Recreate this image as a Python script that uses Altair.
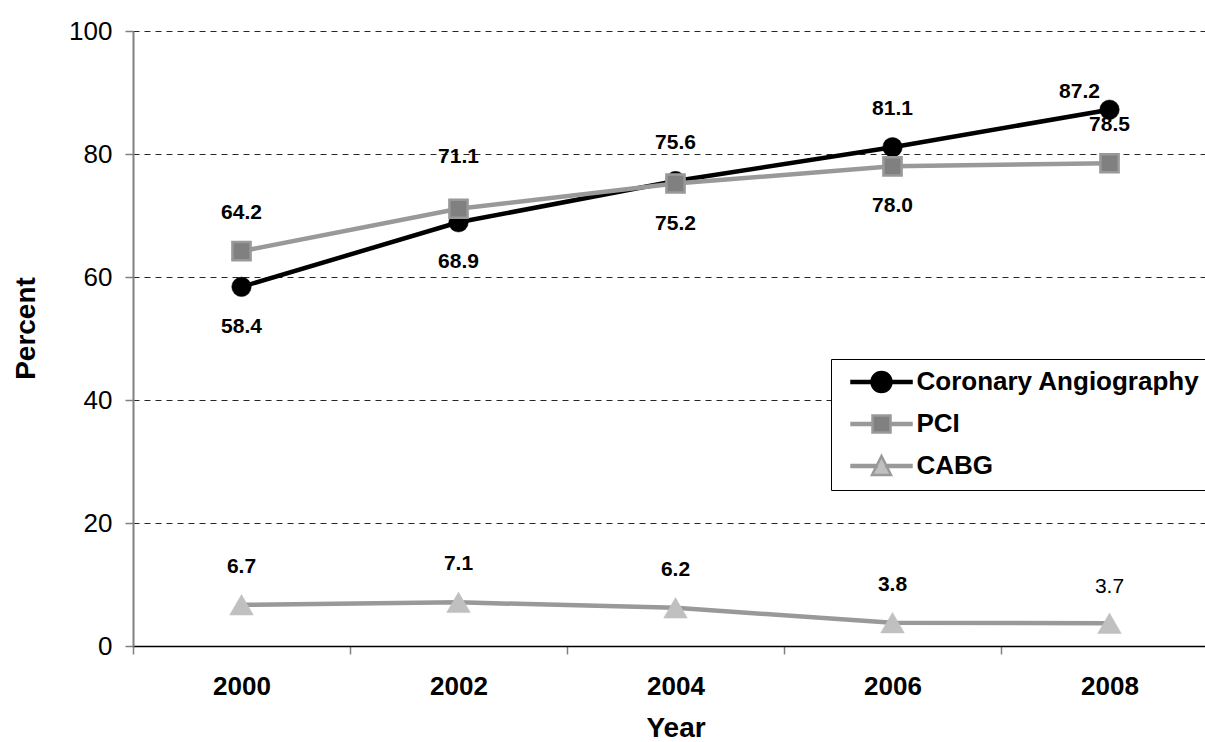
import altair as alt
import pandas as pd

# Share of patients receiving each procedure, by year
years = ["2000", "2002", "2004", "2006", "2008"]
series_names = ["Coronary Angiography", "PCI", "CABG"]
angiography = [58.4, 68.9, 75.6, 81.1, 87.2]
pci = [64.2, 71.1, 75.2, 78.0, 78.5]
cabg = [6.7, 7.1, 6.2, 3.8, 3.7]

# Where each value label sits relative to its marker
angiography_places = ["below", "below", "above", "above", "upleft"]
pci_places = ["above", "high", "below", "below", "above"]
cabg_places = ["above", "above", "above", "above", "above_plain"]

FONT = "Liberation Sans"

line_colors = ["#000000", "#999999", "#999999"]
marker_fills = ["#000000", "#808080", "#c0c0c0"]
marker_strokes = ["#000000", "#999999", "#c0c0c0"]
marker_shapes = ["circle", "square", "triangle-up"]
marker_sizes = [380, 330, 560]

# Legend glyphs: a short line with the series marker in the middle
legend_paths = [
    "M-1,-0.1H1V0.1H-1Z M3,-0.1H5V0.1H3Z "
    "M3,0A1,1,0,1,1,1,0A1,1,0,1,1,3,0Z",
    "M-1,-0.1H1.1V0.1H-1Z M2.9,-0.1H5V0.1H2.9Z M1.1,-0.85H2.9V0.85H1.1Z",
    "M-1,-0.1H1.5V0.1H-1Z M2.5,-0.1H5V0.1H2.5Z M2,-1L2.95,0.9H1.05Z",
]

label_styles = {
    "above": (0, -38, "bold"),
    "high": (0, -52, "bold"),
    "below": (0, 40, "bold"),
    "upleft": (-30, -18, "bold"),
    "above_plain": (0, -36, "normal"),
}

rows = []
for name, values, places in zip(
    series_names,
    [angiography, pci, cabg],
    [angiography_places, pci_places, cabg_places],
):
    for yr, v, p in zip(years, values, places):
        rows.append({"series": name, "year": yr, "value": v, "place": p})
df = pd.DataFrame(rows)

x_enc = alt.X(
    "year:O",
    scale=alt.Scale(type="band", paddingInner=0, paddingOuter=0),
    axis=alt.Axis(
        title="Year",
        tickBand="extent",
        labelAngle=0,
        labelFont=FONT,
        labelFontSize=26,
        labelFontWeight="bold",
        labelColor="#000000",
        labelPadding=19,
        tickSize=8,
        tickColor="#808080",
        tickWidth=1.5,
        domainColor="#000000",
        domainWidth=1.5,
        grid=False,
        titleFont=FONT,
        titleFontSize=28,
        titleFontWeight="bold",
        titleColor="#000000",
        titlePadding=15,
    ),
)
y_enc = alt.Y(
    "value:Q",
    scale=alt.Scale(domain=[0, 100], nice=False, zero=True),
    axis=alt.Axis(
        title="Percent",
        values=[0, 20, 40, 60, 80, 100],
        format="d",
        labelFont=FONT,
        labelFontSize=26,
        labelColor="#000000",
        labelPadding=13,
        tickSize=8,
        tickColor="#808080",
        tickWidth=1.5,
        domainColor="#808080",
        domainWidth=2,
        grid=True,
        gridColor="#000000",
        gridDash=[6, 5],
        gridWidth=1,
        gridOpacity=0.85,
        titleFont=FONT,
        titleFontSize=28,
        titleFontWeight="bold",
        titleColor="#000000",
        titleX=-107,
        titleY=297,
        titleAlign="center",
        titleBaseline="middle",
    ),
)

base = alt.Chart(df)

# Invisible layer that only carries the legend
legend_def = alt.Legend(
    title=None,
    orient="none",
    legendX=698,
    legendY=328,
    direction="vertical",
    padding=10,
    strokeColor="#000000",
    fillColor="#ffffff",
    labelFont=FONT,
    labelFontSize=26,
    labelFontWeight="bold",
    labelColor="#000000",
    labelLimit=500,
    labelOffset=42,
    symbolOffset=7.5,
    symbolSize=400,
    symbolStrokeWidth=2.5,
    symbolOpacity=1,
    rowPadding=13,
)
legend_layer = base.mark_point(opacity=0, filled=True).encode(
    x=x_enc,
    y=y_enc,
    shape=alt.Shape(
        "series:N",
        scale=alt.Scale(domain=series_names, range=legend_paths),
        legend=legend_def,
    ),
    fill=alt.Fill(
        "series:N",
        scale=alt.Scale(domain=series_names, range=marker_fills),
        legend=legend_def,
    ),
    stroke=alt.Stroke(
        "series:N",
        scale=alt.Scale(domain=series_names, range=line_colors),
        legend=legend_def,
    ),
)

layers = [legend_layer]
for i, name in enumerate(series_names):
    sub = base.transform_filter(alt.datum.series == name)
    layers.append(
        sub.mark_line(color=line_colors[i], strokeWidth=4.5).encode(
            x=x_enc, y=y_enc, order="year:O"
        )
    )
    layers.append(
        sub.mark_point(
            shape=marker_shapes[i],
            size=marker_sizes[i],
            filled=True,
            fill=marker_fills[i],
            stroke=marker_strokes[i],
            strokeWidth=2.5 if i == 1 else 0.5,
            opacity=1,
        ).encode(x=x_enc, y=y_enc)
    )

for key, (dx, dy, weight) in label_styles.items():
    layers.append(
        base.transform_filter(alt.datum.place == key)
        .mark_text(
            dx=dx,
            dy=dy,
            font=FONT,
            fontSize=21,
            fontWeight=weight,
            color="#000000",
            align="center",
            baseline="middle",
        )
        .encode(x=x_enc, y=y_enc, text=alt.Text("value:Q", format=".1f"))
    )

chart = (
    alt.layer(*layers)
    .properties(
        width=1085,
        height=615,
        autosize=alt.AutoSizeParams(type="none"),
        padding={"left": 133, "top": 31, "right": -13, "bottom": 96},
        background="#ffffff",
    )
    .configure_view(stroke=None)
)

chart.save("out.html", embed_options={"renderer": "svg", "actions": False})
